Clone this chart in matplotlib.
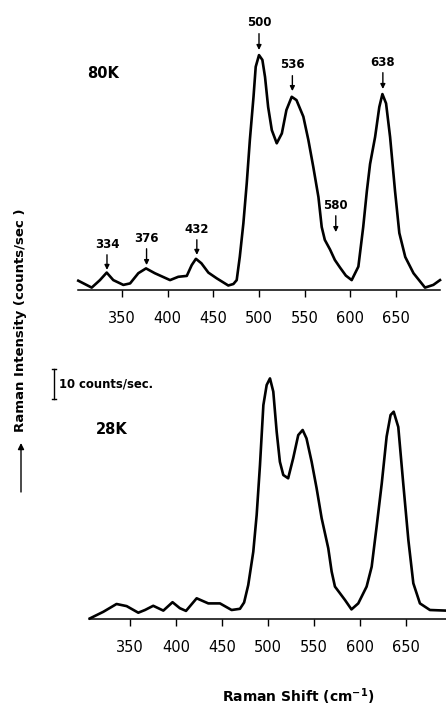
#!/usr/bin/env python3

import numpy as np
from matplotlib import pyplot as plt
from matplotlib.patches import FancyArrowPatch

# 80K spectrum (Raman shift in cm-1, intensity in counts/sec)
shift_80 = [302.3, 317, 326, 333.4, 340.6, 351.6, 359, 368, 376.4, 386,
            402.7, 411.7, 421, 426.4, 431, 437, 444.6, 453.7, 466.4, 472,
            475.6, 479, 482.9, 486.6, 490, 494, 496.4, 500, 503.7, 506.6,
            510, 514, 519.4, 525, 530, 535.8, 541, 548.5, 554, 559.4, 565,
            568.6, 572, 577.7, 583, 588.6, 595, 601.4, 608.7, 614, 618,
            621.5, 627, 631.6, 635, 639, 643.4, 648.8, 653.5, 660, 669,
            681.6, 690.7, 698]
int_80 = [3.1, 0.8, 3.3, 5.8, 3.3, 1.7, 2.2, 5.6, 7.2, 5.6,
          3.3, 4.4, 4.7, 8.3, 10.4, 8.9, 5.8, 3.9, 1.5, 2.0,
          3.3, 11.1, 22.2, 35.6, 50, 64.4, 74.4, 78.3, 76.7, 71,
          61, 53.3, 48.9, 52.2, 60, 64.4, 63.3, 57.8, 50, 41, 31,
          21, 16.7, 13.5, 10, 7.5, 4.8, 3.3, 7.8, 21, 33,
          42, 51, 61, 65.3, 62.2, 51, 33, 19, 11, 5.6,
          0.8, 1.7, 3.3]

# 28K spectrum
shift_28 = [306, 320.6, 335, 346, 358.7, 366, 375, 386, 396, 404, 410.7,
            422.3, 435, 447.7, 460.4, 469.5, 474, 478.5, 484, 487.7, 491.3,
            495, 498.6, 502.2, 505.8, 509.5, 513, 516.7, 522, 527.5, 533,
            537.8, 542, 547.6, 553, 558.5, 565.7, 569.4, 573, 578.4, 584,
            591, 598.4, 607.5, 613, 618.4, 624, 629.3, 633.6, 637, 642,
            647.4, 653, 658.4, 665.6, 676.5, 694]
int_28 = [0.2, 2.4, 5, 4.3, 2.1, 3, 4.4, 2.8, 5.6, 3.6, 2.7,
          6.9, 5.2, 5.2, 3, 3.4, 5.5, 11.3, 22.4, 34.7, 51.3,
          71.3, 78, 80.2, 75.8, 62.4, 52.4, 48, 46.9, 53.6, 61.3,
          63, 60.2, 52.4, 43.6, 33.6, 23.6, 15.8, 10.8, 8.6, 6.3,
          3.2, 5.2, 10.8, 17.4, 30.8, 45.2, 60.8, 68, 69.1, 64,
          45.2, 26.3, 11.9, 5.2, 3, 2.8]

ticks = [350, 400, 450, 500, 550, 600, 650]

# peak labels on the 80K trace
peak_names = ['334', '376', '432', '500', '536', '580', '638']
peak_x = [333.7, 377, 432, 500, 536.5, 584, 635.5]
peak_text_y = [15.3, 17.3, 20.3, 89.0, 75.0, 28.3, 76.0]
peak_tip_y = [6.7, 8.3, 11.7, 80.0, 66.3, 19.3, 67.0]

W, H = 446, 708
fig = plt.figure(figsize=(W / 100, H / 100), dpi=100)


def px_axes(left, right, bottom, top):
    return fig.add_axes([left / W, (H - bottom) / H,
                         (right - left) / W, (bottom - top) / H])


def style(ax, xlim, ytop):
    ax.set_xlim(*xlim)
    ax.set_ylim(0, ytop)
    for s in ('top', 'right', 'left'):
        ax.spines[s].set_visible(False)
    ax.spines['bottom'].set_linewidth(1.1)
    ax.set_yticks([])
    ax.set_xticks(ticks)
    ax.tick_params(axis='x', direction='out', length=5, width=1.0,
                   pad=10, labelsize=10.5)
    ax.patch.set_visible(False)


ax1 = px_axes(78, 440, 290, 40)
style(ax1, (302, 698), 250 / 3)
ax1.plot(shift_80, int_80, color='black', lw=1.9, solid_joinstyle='round',
         clip_on=False)
ax1.text(329.4, 72.3, '80K', fontsize=10.5, fontweight='bold',
         ha='center', va='center')
for name, x, ty, tip in zip(peak_names, peak_x, peak_text_y, peak_tip_y):
    ax1.annotate(name, xy=(x, tip), xytext=(x, ty), ha='center', va='center',
                 fontsize=8.5, fontweight='bold', annotation_clip=False,
                 arrowprops=dict(arrowstyle='-|>', color='black', lw=1.0,
                                 mutation_scale=7, shrinkA=1, shrinkB=0))

ax2 = px_axes(89, 446, 619, 359)
style(ax2, (305, 694), 260 / 3)
ax2.plot(shift_28, int_28, color='black', lw=1.9, solid_joinstyle='round',
         clip_on=False)
ax2.text(330, 63.3, '28K', fontsize=10.5, fontweight='bold',
         ha='center', va='center')

# 10 counts/sec scale bar
ax2.plot([267, 267], [73.3, 83.3], color='black', lw=1.0, clip_on=False)
ax2.plot([264.5, 269.5], [73.3, 73.3], color='black', lw=1.0, clip_on=False)
ax2.plot([264.5, 269.5], [83.3, 83.3], color='black', lw=1.0, clip_on=False)
ax2.text(272.5, 78.3, '10 counts/sec.', fontsize=8.4, fontweight='bold',
         ha='left', va='center')

fig.text(21 / W, (H - 320) / H, 'Raman Intensity (counts/sec )',
         rotation=90, ha='center', va='center', fontsize=9.5,
         fontweight='bold')
fig.add_artist(FancyArrowPatch(
    (21 / W, (H - 492) / H), (21 / W, (H - 443) / H),
    transform=fig.transFigure, arrowstyle='-|>', mutation_scale=9,
    color='black', lw=1.0, shrinkA=0, shrinkB=0))

fig.text(298 / W, (H - 697) / H, 'Raman Shift (cm$^{\\mathbf{-1}}$)',
         ha='center', va='center', fontsize=10, fontweight='bold')

plt.savefig('out.png', dpi=100)
